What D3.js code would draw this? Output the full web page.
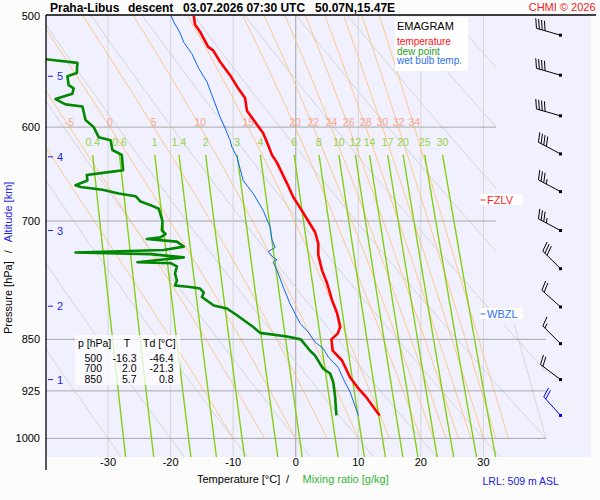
<!DOCTYPE html>
<html>
<head>
<meta charset="utf-8">
<script src="https://cdn.jsdelivr.net/npm/d3@7"></script>
<style>
  body { margin: 0; background: #fcfcfc; }
  svg { display: block; font-family: "Liberation Sans", Arial, sans-serif; }
</style>
</head>
<body>
<svg id="chart" width="600" height="500"></svg>
<script>
// ---- sounding data ----
const tempP = [500, 507, 513, 520, 526, 529, 539, 551, 563, 572, 584, 595, 606, 615, 628, 636, 658, 673, 685, 700,
               713, 726, 740, 759, 775, 797, 814, 833, 842, 850, 866, 880, 905, 920, 935, 963];
const tempT = [-16.3, -16.1, -15.3, -14.6, -14.0, -13.2, -12.1, -10.5, -9.2, -8.1, -7.8, -6.5, -5.2, -4.6, -3.8, -3.0, -1.4, -0.4, 0.7, 2.0,
               3.1, 3.6, 3.6, 4.2, 5.0, 5.8, 6.6, 7.1, 6.7, 5.7, 5.9, 7.4, 8.7, 9.9, 11.3, 13.4];

const dewP = [500, 536, 540, 549, 552, 560, 563, 568, 573, 578, 580, 593, 600, 610, 613, 623, 628, 644, 646, 649,
              655, 660, 662, 665, 669, 672, 678, 682, 686, 693, 700, 711, 715, 719, 721, 724, 730, 734, 737, 739,
              743, 746, 749, 750, 754, 763, 772, 778, 780, 782, 787, 793, 804, 808, 817, 833, 841, 846, 850, 866,
              873, 885, 892, 899, 912, 935, 963];
const dewT = [-46.4, -41.1, -34.9, -35.0, -36.5, -36.3, -35.5, -35.7, -38.4, -36.8, -34.1, -33.6, -32.3, -31.5, -29.6, -29.3, -27.8, -27.6, -29.9, -33.4,
              -33.3, -35.2, -34.4, -30.9, -28.3, -25.6, -24.8, -23.2, -21.9, -21.6, -21.3, -21.4, -20.8, -21.6, -23.8, -19.0, -17.9, -21.1, -35.2, -23.2,
              -17.9, -21.6, -25.3, -20.0, -19.0, -19.3, -19.0, -19.3, -16.9, -15.3, -14.7, -15.0, -13.1, -11.0, -9.4, -6.8, -5.7, -1.4, 0.8, 2.3,
              3.1, 3.9, 4.4, 5.5, 6.0, 6.3, 6.5];

const wetP = [500, 505, 514, 522, 532, 545, 557, 574, 590, 601, 613, 620, 630, 655, 669, 688, 707, 722, 731, 736,
              743, 746, 749, 759, 780, 802, 815, 828, 840, 854, 863, 875, 890, 907, 927, 963];
const wetT = [-19.9, -19.5, -18.5, -17.9, -16.6, -15.5, -14.2, -13.1, -12.1, -11.3, -10.5, -10.2, -9.4, -8.4, -6.8, -5.2, -4.1, -3.8, -3.3, -4.4,
              -3.6, -3.0, -3.6, -3.0, -2.0, -0.9, -0.1, 0.7, 2.0, 3.1, 4.4, 5.2, 6.8, 7.6, 8.7, 10.0];

// wind barbs, bottom (surface) to top
const windP   = [963, 908, 856, 806, 757, 711, 667, 627, 589, 551, 516];
const windDir = [318, 307, 315, 312, 315, 298, 298, 298, 286, 286, 286];
const windKt  = [20, 20, 15, 20, 30, 35, 35, 40, 40, 40, 40];

// axes / background
const isobars = [600, 700, 850, 925, 1000];
const pLabels = [500, 600, 700, 850, 925, 1000];
const isotherms = [-30, -20, -10, 0, 10, 20, 30];
const tempTicks = [-30, -20, -10, 0, 10, 20, 30];
const altKm = [1, 2, 3, 4, 5];
const altP = [908, 805, 711, 630, 552];
const dryTheta = [-30, -20, -10, 0, 10, 20, 30, 40, 50, 60, 70, 80, 90];
const moistThetaW = [-10, -5, 0, 5, 10, 15, 20, 22, 24, 26, 28, 30, 32, 34];
const mixRatios = [0.4, 0.6, 1, 1.4, 2, 3, 4, 6, 8, 10, 12, 14, 17, 20, 25, 30];
const tableP = [500, 700, 850];

// ---- layout ----
const svg = d3.select("#chart");
const x = d3.scaleLinear().domain([-40, 40]).range([45.5, 546]);
const y = d3.scaleLog().domain([500, 1031]).range([16, 457]);
const top_ = 15, bot = 457, left = 46, bgRight = 591;
const tMax = p => p < 830 ? 32 : 40;

const line = d3.line().x(d => x(d[1])).y(d => y(d[0]));

svg.append("rect").attr("width", 600).attr("height", 500).attr("fill", "#fcfcfc");
svg.append("rect").attr("x", left).attr("y", top_).attr("width", bgRight - left).attr("height", bot - top_)
    .attr("fill", "#f0f0ff");

const defs = svg.append("defs");
defs.append("clipPath").attr("id", "clipGrid").append("polygon")
    .attr("points", [[x(-40), top_], [x(32), top_], [x(32), y(830)], [x(40), y(830)], [x(40), bot], [x(-40), bot]]
        .map(d => d.join(",")).join(" "));
defs.append("clipPath").attr("id", "clipPlot").append("rect")
    .attr("x", left).attr("y", top_).attr("width", x(40) - left).attr("height", bot - top_);

const grid = svg.append("g").attr("clip-path", "url(#clipGrid)").attr("fill", "none");

// isotherms
grid.selectAll(".iso").data(isotherms).join("line")
    .attr("x1", d => x(d)).attr("x2", d => x(d)).attr("y1", top_).attr("y2", bot)
    .attr("stroke", d => d === 0 ? "#a4a4a4" : "#d6d6d6").attr("stroke-width", 1);

// dry adiabats
const presAll = d3.range(500, 1031.1, 3).concat([1031]);
grid.selectAll(".dry").data(dryTheta).join("path")
    .attr("d", th => line(presAll.map(p => [p, (th + 273.15) * Math.pow(p / 1000, 0.2857) - 273.15])))
    .attr("stroke", "#d4d4d4").attr("stroke-width", 1);

// pseudo-adiabats
function esat(tc) { return 6.112 * Math.exp(17.67 * tc / (tc + 243.5)); }
function dTdp(p, T) {
    const es = esat(T - 273.15);
    const rs = 0.622 * es / (p - es);
    const L = 2.501e6;
    return (287.04 * T + L * rs) / (1005.7 + L * L * rs * 0.622 / (287.04 * T * T)) / p;
}
function moist(tw, pEnd) {
    let T = tw + 273.15, p = 1000;
    const pts = [[p, tw]];
    const dp = -2;
    while (p > pEnd) {
        const k1 = dTdp(p, T);
        const k2 = dTdp(p + dp / 2, T + k1 * dp / 2);
        T += k2 * dp; p += dp;
        pts.push([p, T - 273.15]);
    }
    return pts;
}
const moistLines = moistThetaW.map(tw => ({tw, pts: moist(tw, 500)}));
grid.selectAll(".moist").data(moistLines).join("path")
    .attr("d", d => line(d.pts))
    .attr("stroke", "#ffc585").attr("stroke-width", 1);
// warm saturated adiabat drawn grey in the lower corner
grid.append("path")
    .attr("d", line(moist(40, 500).filter(d => d[0] >= 830)))
    .attr("stroke", "#d4d4d4").attr("stroke-width", 1);

// mixing ratio lines
function tdFromW(w, p) {
    const e = w * p / (622 + w);
    const l = Math.log(e / 6.112);
    return 243.5 * l / (17.67 - l);
}
const pMix = d3.range(628, 1031.1, 8).concat([1031]);
grid.selectAll(".mix").data(mixRatios).join("path")
    .attr("d", w => line(pMix.map(p => [p, tdFromW(w, p)])))
    .attr("stroke", "#84d010").attr("stroke-width", 1.4);

// isobars
grid.selectAll(".isobar").data(isobars).join("line")
    .attr("x1", x(-40)).attr("x2", d => x(tMax(d)))
    .attr("y1", d => y(d)).attr("y2", d => y(d))
    .attr("stroke", "#a8a8a8").attr("stroke-width", 1);

// labels of moist adiabats and mixing ratio
function tAt(pts, p) {
    for (let i = 1; i < pts.length; i++) {
        if (pts[i][0] <= p) {
            const a = pts[i - 1], b = pts[i];
            return a[1] + (b[1] - a[1]) * (a[0] - p) / (a[0] - b[0]);
        }
    }
    return pts[pts.length - 1][1];
}
svg.append("g").selectAll("text").data(moistLines.filter(d => x(tAt(d.pts, 600)) > 55)).join("text")
    .attr("x", d => x(tAt(d.pts, 600))).attr("y", y(600) - 1.5)
    .attr("text-anchor", "middle").attr("font-size", 10.5).attr("fill", "#f5a68e")
    .text(d => String(d.tw));
svg.append("g").selectAll("text").data(mixRatios).join("text")
    .attr("x", w => x(tdFromW(w, 628))).attr("y", y(628) - 8.5)
    .attr("text-anchor", "middle").attr("font-size", 10.5).attr("fill", "#96d23e")
    .text(w => String(w));

// ---- profiles ----
const prof = svg.append("g").attr("clip-path", "url(#clipPlot)").attr("fill", "none")
    .attr("stroke-linejoin", "round");
prof.append("path").attr("d", line(wetP.map((p, i) => [p, wetT[i]])))
    .attr("stroke", "#0a64ff").attr("stroke-width", 1);
prof.append("path").attr("d", line(dewP.map((p, i) => [p, dewT[i]])))
    .attr("stroke", "#008800").attr("stroke-width", 2.6);
prof.append("path").attr("d", line(tempP.map((p, i) => [p, tempT[i]])))
    .attr("stroke", "#ff0000").attr("stroke-width", 2.6);

// freezing / wet-bulb zero levels
function zeroLevel(ps, ts) {
    for (let i = ts.length - 1; i > 0; i--) {
        if (ts[i] >= 0 && ts[i - 1] < 0) {
            return ps[i] + (ps[i - 1] - ps[i]) * ts[i] / (ts[i] - ts[i - 1]);
        }
    }
    return null;
}
function levelMark(p, label, color) {
    const yy = y(p) - 1;
    svg.append("rect").attr("x", 480).attr("y", yy - 6).attr("width", 43).attr("height", 11).attr("fill", "#ffffff");
    svg.append("line").attr("x1", 480.5).attr("x2", 485.5).attr("y1", yy).attr("y2", yy)
        .attr("stroke", color).attr("stroke-width", 1);
    svg.append("text").attr("x", 487).attr("y", yy + 4).attr("font-size", 11).attr("fill", color).text(label);
}
levelMark(zeroLevel(tempP, tempT), "FZLV", "#ff1a1a");
levelMark(zeroLevel(wetP, wetT), "WBZL", "#2f70ee");

// ---- wind barbs ----
const barbs = svg.append("g");
function drawBarb(p, dir, kt, color) {
    const px = 560.5, py = y(p);
    const r = dir * Math.PI / 180;
    const dx = Math.sin(r), dy = -Math.cos(r);
    const L = 25, a = 70 * Math.PI / 180;
    const fx = dx * Math.cos(a) - dy * Math.sin(a);
    const fy = dx * Math.sin(a) + dy * Math.cos(a);
    const g = barbs.append("g").attr("stroke", color).attr("stroke-width", 1).attr("fill", "none");
    g.append("line").attr("x1", px).attr("y1", py).attr("x2", px + dx * L).attr("y2", py + dy * L);
    const n10 = Math.floor(kt / 10), n5 = Math.round((kt % 10) / 5);
    let pos = L;
    for (let i = 0; i < n10; i++) {
        const bx = px + dx * pos, by = py + dy * pos;
        g.append("line").attr("x1", bx).attr("y1", by).attr("x2", bx + fx * 10).attr("y2", by + fy * 10);
        pos -= 3;
    }
    if (n5) {
        if (n10 === 0) pos -= 3;
        const bx = px + dx * pos, by = py + dy * pos;
        g.append("line").attr("x1", bx).attr("y1", by).attr("x2", bx + fx * 5).attr("y2", by + fy * 5);
    }
    barbs.append("rect").attr("x", px - 1.5).attr("y", py - 1.5).attr("width", 3).attr("height", 3).attr("fill", color);
}
windP.forEach((p, i) => drawBarb(p, windDir[i], windKt[i], i === 0 ? "#0000ff" : "#000000"));

// ---- legend ----
svg.append("rect").attr("x", 395).attr("y", 17).attr("width", 73).attr("height", 54).attr("fill", "#ffffff");
svg.append("text").attr("x", 397).attr("y", 30).attr("font-size", 11).attr("fill", "#000").text("EMAGRAM");
[["temperature", "#ff1010"], ["dew point", "#1e9e1e"], ["wet bulb temp.", "#2f70ee"]].forEach((d, i) => {
    svg.append("text").attr("x", 397).attr("y", 45 + i * 9.7).attr("font-size", 10).attr("fill", d[1]).text(d[0]);
});

// ---- table ----
svg.append("rect").attr("x", 75).attr("y", 335).attr("width", 105).attr("height", 50)
    .attr("fill", "#ffffff").attr("fill-opacity", 0.75);
const tab = svg.append("g").attr("font-size", 10.5).attr("fill", "#000");
tab.append("text").attr("x", 78).attr("y", 347).text("p [hPa]");
tab.append("text").attr("x", 127).attr("y", 347).attr("text-anchor", "middle").text("T");
tab.append("text").attr("x", 143).attr("y", 347).text("Td [°C]");
tableP.forEach((p, i) => {
    const yy = 361.7 + i * 10.5;
    tab.append("text").attr("x", 102).attr("y", yy).attr("text-anchor", "end").text(String(p));
    tab.append("text").attr("x", 136.5).attr("y", yy).attr("text-anchor", "end")
        .text(tempT[tempP.indexOf(p)].toFixed(1));
    tab.append("text").attr("x", 173.5).attr("y", yy).attr("text-anchor", "end")
        .text(dewT[dewP.indexOf(p)].toFixed(1));
});

// ---- axes ----
svg.append("line").attr("x1", left).attr("x2", left).attr("y1", top_).attr("y2", 470)
    .attr("stroke", "#000").attr("stroke-width", 1.3);
svg.append("line").attr("x1", left).attr("x2", 596).attr("y1", top_).attr("y2", top_)
    .attr("stroke", "#000").attr("stroke-width", 1.3);

svg.append("g").selectAll("text").data(pLabels).join("text")
    .attr("x", 40).attr("y", d => y(d) + 4).attr("text-anchor", "end").attr("font-size", 11).attr("fill", "#000")
    .text(d => String(d));
svg.append("g").selectAll("text").data(tempTicks).join("text")
    .attr("x", d => x(d)).attr("y", 466).attr("text-anchor", "middle").attr("font-size", 11).attr("fill", "#000")
    .text(d => String(d));

const alt = svg.append("g");
altKm.forEach((k, i) => {
    const yy = y(altP[i]);
    alt.append("line").attr("x1", 48).attr("x2", 53).attr("y1", yy).attr("y2", yy)
        .attr("stroke", "#1f1fe6").attr("stroke-width", 1);
    alt.append("text").attr("x", 57).attr("y", yy + 4).attr("font-size", 11).attr("fill", "#1f1fe6").text(String(k));
});

// titles
svg.append("g").attr("font-size", 12).attr("font-weight", "bold").attr("fill", "#000")
    .selectAll("text").data([["Praha-Libus", 50], ["descent", 128], ["03.07.2026 07:30 UTC", 183], ["50.07N,15.47E", 315]])
    .join("text").attr("x", d => d[1]).attr("y", 11.5).text(d => d[0]);
svg.append("text").attr("x", 595.5).attr("y", 11).attr("text-anchor", "end").attr("font-size", 11)
    .attr("fill", "#f02020").text("CHMI © 2026");

svg.append("text").attr("x", 197).attr("y", 483).attr("font-size", 11).attr("fill", "#000").text("Temperature [°C]");
svg.append("text").attr("x", 286).attr("y", 483).attr("font-size", 11).attr("fill", "#000").text("/");
svg.append("text").attr("x", 302.5).attr("y", 483).attr("font-size", 11).attr("fill", "#33b533").text("Mixing ratio [g/kg]");
svg.append("text").attr("x", 482.5).attr("y", 485).attr("font-size", 10.5).attr("fill", "#2020e0").text("LRL: 509 m ASL");

const ylab = svg.append("text").attr("transform", "translate(11.5,334) rotate(-90)").attr("font-size", 11).attr("fill", "#000");
ylab.append("tspan").text("Pressure [hPa]");
ylab.append("tspan").attr("dx", 8).text("/");
ylab.append("tspan").attr("dx", 8).attr("fill", "#1f1fe6").text("Altitude [km]");
</script>
</body>
</html>
